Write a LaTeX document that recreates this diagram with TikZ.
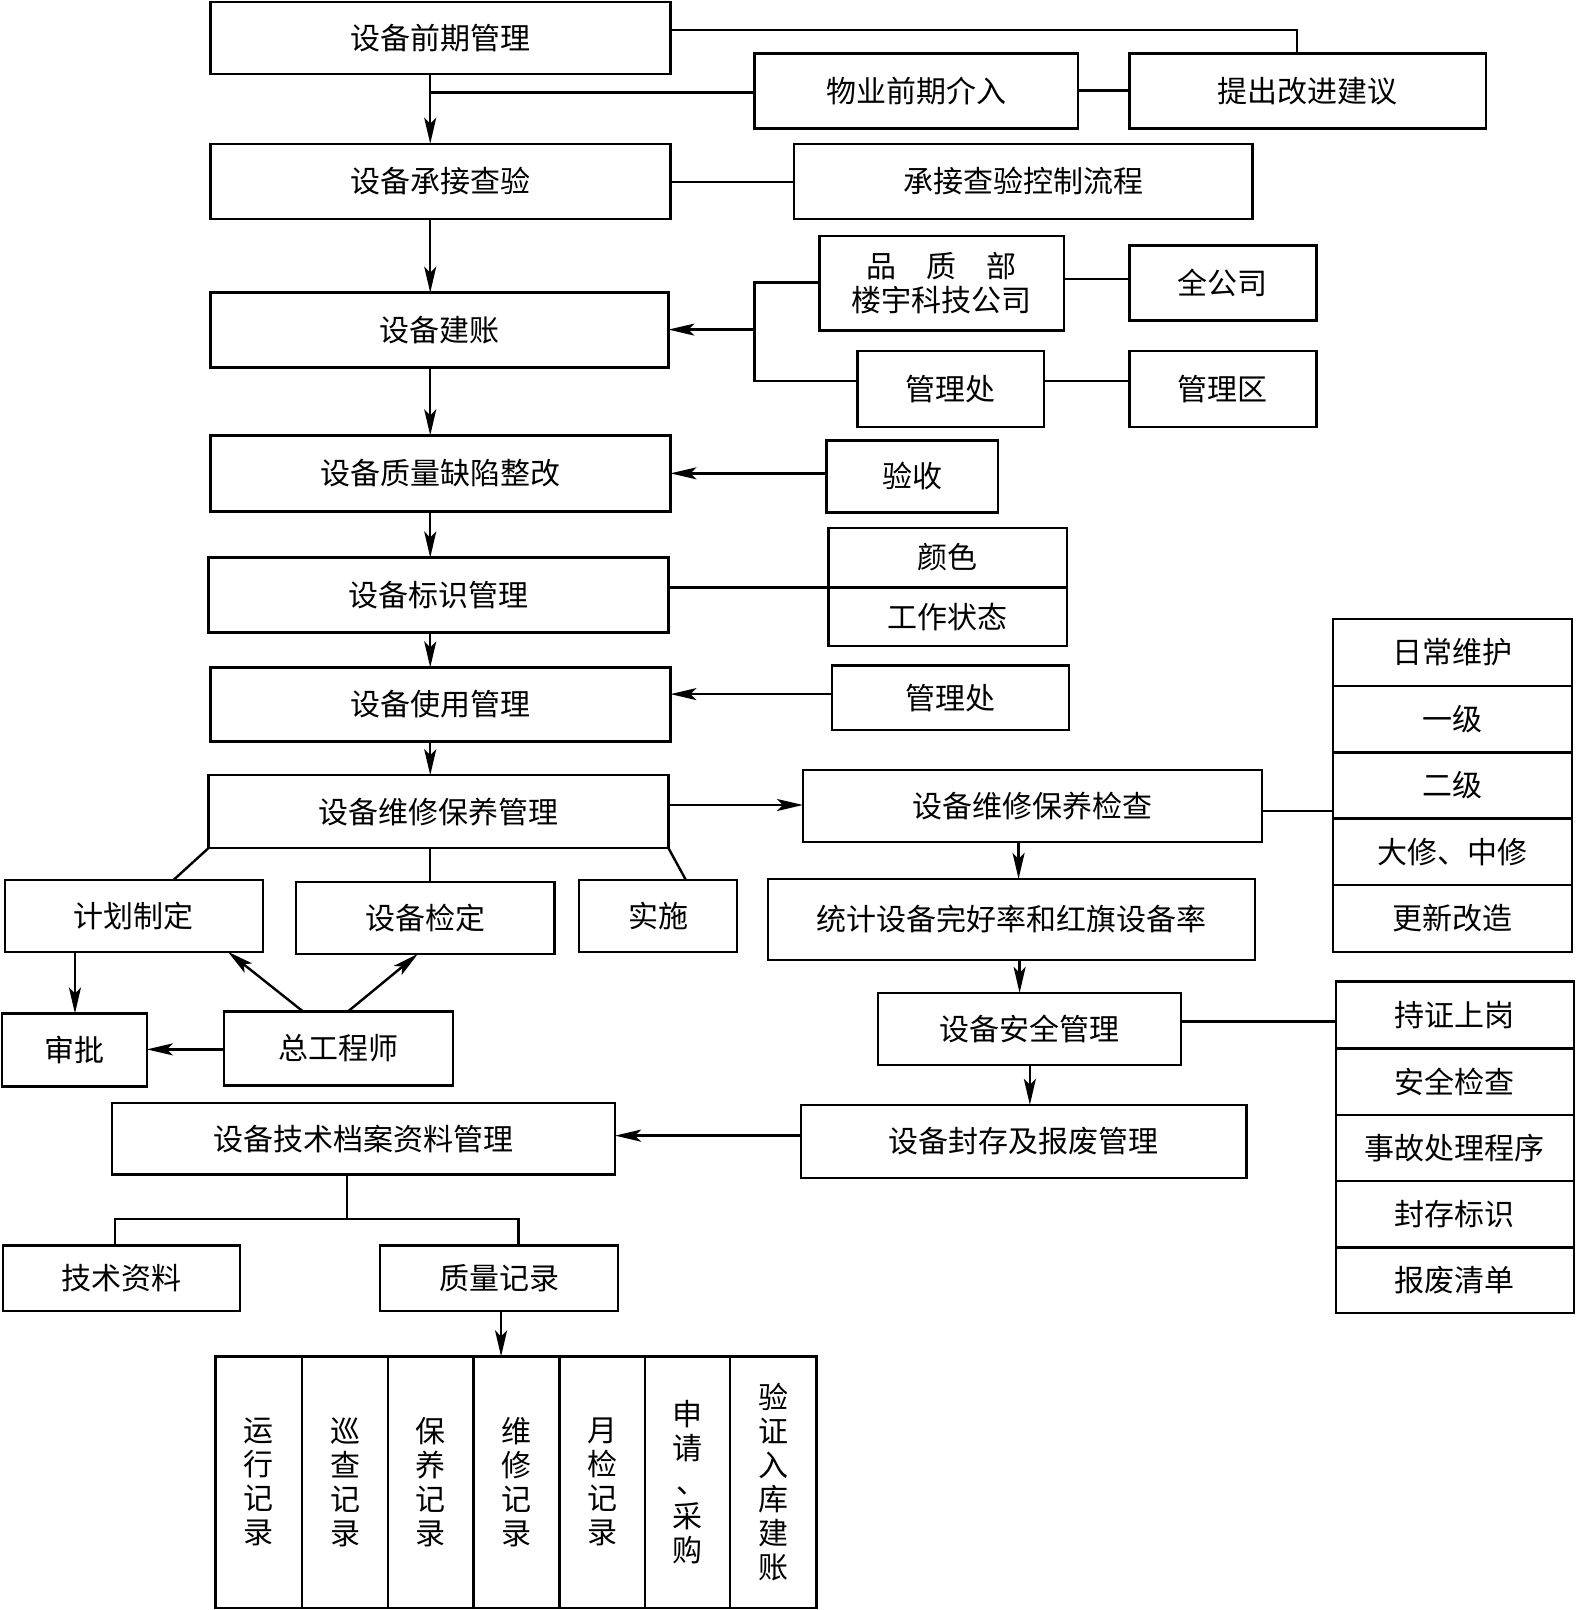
\documentclass[tikz,border=0pt]{standalone}
\usepackage{fontspec}
\setmainfont{Noto Sans CJK SC}
\usetikzlibrary{arrows.meta,calc}
\newcommand{\un}{0.51336pt}
\newcommand{\bx}[6]{\node[box,minimum width={(#4-#2)*\un},minimum height={(#5-#3)*\un}] (#1) at ({(#2+#4)/2},{(#3+#5)/2}) {#6};}
\tikzset{
  box/.style={draw,line width=1.2pt,inner sep=0pt,outer sep=0pt,align=center,font=\fontsize{15}{17}\selectfont},
  ln/.style={line width=1.2pt},
  arr/.style={line width=1.2pt,-{Stealth[length=13pt,width=6pt,inset=3pt]}}
}
\begin{document}
\begin{tikzpicture}[x=\un,y=-\un]
\fill[white] (0,0) rectangle (1535,1568);
\useasboundingbox (0,0) rectangle (1535,1568);
% main column and side boxes
\bx{A}{205}{2}{653}{72}{设备前期管理}
\bx{B}{735}{52}{1050}{125}{物业前期介入}
\bx{C}{1100}{52}{1447}{125}{提出改进建议}
\bx{D}{205}{140}{653}{213}{设备承接查验}
\bx{E}{773}{140}{1220}{213}{承接查验控制流程}
\bx{F}{205}{285}{651}{358}{设备建账}
\bx{G}{798}{230}{1036}{322}{品\hspace{1em}质\hspace{1em}部\\楼宇科技公司}
\bx{H}{1100}{239}{1282}{312}{全公司}
\bx{I}{835}{342}{1017}{416}{管理处}
\bx{J}{1100}{342}{1282}{416}{管理区}
\bx{K}{205}{424}{653}{498}{设备质量缺陷整改}
\bx{L}{805}{429}{972}{499}{验收}
\bx{M}{203}{543}{651}{616}{设备标识管理}
\bx{N1}{807}{514}{1039}{572}{颜色}
\bx{N2}{807}{572}{1039}{629}{工作状态}
\bx{O}{205}{650}{653}{722}{设备使用管理}
\bx{P}{810}{648}{1041}{711}{管理处}
\bx{Q}{203}{755}{651}{826}{设备维修保养管理}
\bx{R}{782}{750}{1229}{820}{设备维修保养检查}
\bx{S1}{1298}{603}{1531}{668}{日常维护}
\bx{S2}{1298}{668}{1531}{733}{一级}
\bx{S3}{1298}{733}{1531}{797}{二级}
\bx{S4}{1298}{797}{1531}{862}{大修、中修}
\bx{S5}{1298}{862}{1531}{927}{更新改造}
\bx{T}{748}{856}{1222}{935}{统计设备完好率和红旗设备率}
\bx{U}{855}{967}{1150}{1037}{设备安全管理}
\bx{V1}{1301}{956}{1533}{1021}{持证上岗}
\bx{V2}{1301}{1021}{1533}{1086}{安全检查}
\bx{V3}{1301}{1086}{1533}{1150}{事故处理程序}
\bx{V4}{1301}{1150}{1533}{1215}{封存标识}
\bx{V5}{1301}{1215}{1533}{1279}{报废清单}
\bx{W}{780}{1076}{1214}{1147}{设备封存及报废管理}
\bx{X}{109}{1074}{599}{1144}{设备技术档案资料管理}
\bx{Y}{5}{857}{256}{927}{计划制定}
\bx{Z}{288}{859}{540}{929}{设备检定}
\bx{AA}{564}{857}{718}{927}{实施}
\bx{AB}{2}{987}{143}{1058}{审批}
\bx{AC}{218}{985}{441}{1057}{总工程师}
\bx{AD}{3}{1213}{234}{1277}{技术资料}
\bx{AE}{370}{1213}{602}{1277}{质量记录}
% records
\bx{F1}{210}{1321}{294}{1566}{\fontsize{15}{20.5}\selectfont 运\\行\\记\\录}
\bx{F2}{294}{1321}{378}{1566}{\fontsize{15}{20.5}\selectfont 巡\\查\\记\\录}
\bx{F3}{378}{1321}{461}{1566}{\fontsize{15}{20.5}\selectfont 保\\养\\记\\录}
\bx{F4}{461}{1321}{545}{1566}{\fontsize{15}{20.5}\selectfont 维\\修\\记\\录}
\bx{F5}{545}{1321}{628}{1566}{\fontsize{15}{20.5}\selectfont 月\\检\\记\\录}
\bx{F6}{628}{1321}{711}{1566}{\fontsize{15}{20.5}\selectfont 申\\请\\\hspace*{0.3em}、\\采\\购}
\bx{F7}{711}{1321}{795}{1566}{\fontsize{15}{17}\selectfont 验\\证\\入\\库\\建\\账}
% helper coordinates
\coordinate (xm) at (419,0);
\coordinate (c1) at (1263,29);
\coordinate (c2) at (419,90);
\coordinate (c3) at (0,88);
\coordinate (c4) at (0,177);
\coordinate (b1) at (735,275);
\coordinate (b2) at (735,371);
\coordinate (bk) at (735,321);
\coordinate (c5) at (0,272);
\coordinate (c6) at (0,461);
\coordinate (c7) at (0,676);
\coordinate (c8) at (0,784);
\coordinate (c9) at (0,790);
\coordinate (x10) at (992,0);
\coordinate (x11) at (993,0);
\coordinate (c12) at (0,995);
\coordinate (x13) at (1003,0);
\coordinate (c14) at (0,1106);
\coordinate (x15) at (169,0);
\coordinate (x16) at (668,0);
\coordinate (x17) at (73,0);
\coordinate (c18) at (0,1022);
\coordinate (p1) at (295,0);
\coordinate (p2) at (222,0);
\coordinate (p3) at (339,0);
\coordinate (p4) at (407,0);
\coordinate (t1) at (338,1187);
\coordinate (t2) at (112,1187);
\coordinate (t3) at (505,1187);
\coordinate (x19) at (488,0);
% connectors
\draw[ln] (A.east |- c1) -- (c1) -- (C.north -| c1);
\draw[arr] (A.south -| xm) -- (D.north -| xm);
\draw[ln] (c2) -- (B.west |- c2);
\draw[ln] (B.east |- c3) -- (C.west |- c3);
\draw[ln] (D.east |- c4) -- (E.west |- c4);
\draw[arr] (D.south -| xm) -- (F.north -| xm);
\draw[ln] (G.west |- b1) -- (b1) -- (b2) -- (I.west |- b2);
\draw[arr] (bk) -- (F.east |- bk);
\draw[ln] (G.east |- c5) -- (H.west |- c5);
\draw[ln] (I.east |- b2) -- (J.west |- b2);
\draw[arr] (F.south -| xm) -- (K.north -| xm);
\draw[arr] (L.west |- c6) -- (K.east |- c6);
\draw[arr] (K.south -| xm) -- (M.north -| xm);
\draw[ln] (M.east |- N1.south west) -- (N1.south west);
\draw[arr] (M.south -| xm) -- (O.north -| xm);
\draw[arr] (P.west |- c7) -- (O.east |- c7);
\draw[arr] (O.south -| xm) -- (Q.north -| xm);
\draw[arr] (Q.east |- c8) -- (R.west |- c8);
\draw[ln] (R.east |- c9) -- (S3.west |- c9);
\draw[arr] (R.south -| x10) -- (T.north -| x10);
\draw[arr] (T.south -| x11) -- (U.north -| x11);
\draw[ln] (U.east |- c12) -- (V1.west |- c12);
\draw[arr] (U.south -| x13) -- (W.north -| x13);
\draw[arr] (W.west |- c14) -- (X.east |- c14);
\draw[ln] (Q.south west) -- (Y.north -| x15);
\draw[ln] (Q.south -| xm) -- (Z.north -| xm);
\draw[ln] (Q.south east) -- (AA.north -| x16);
\draw[arr] (Y.south -| x17) -- (AB.north -| x17);
\draw[arr] (AC.west |- c18) -- (AB.east |- c18);
\draw[arr] (AC.north -| p1) -- (Y.south -| p2);
\draw[arr] (AC.north -| p3) -- (Z.south -| p4);
\draw[ln] (X.south -| t1) -- (t1);
\draw[ln] (AD.north -| t2) -- (t2) -- (t3) -- (AE.north -| t3);
\draw[arr] (AE.south -| x19) -- (F4.north -| x19);
\end{tikzpicture}
\end{document}
